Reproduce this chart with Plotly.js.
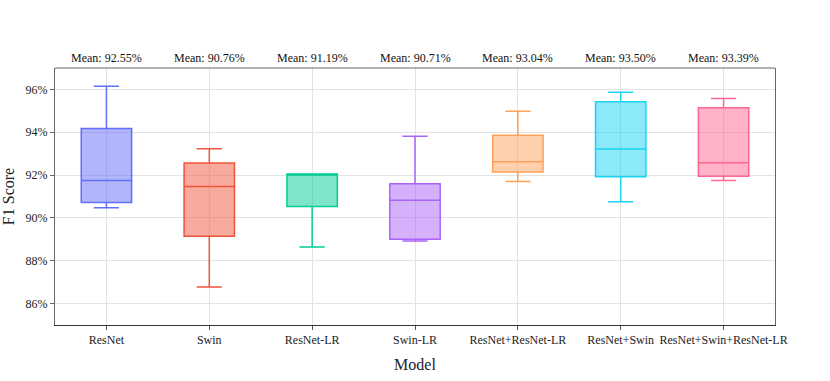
<!DOCTYPE html>
<html>
<head>
<meta charset="utf-8">
<script src="https://cdn.plot.ly/plotly-3.0.1.min.js"></script>
<style>
  html, body { margin: 0; padding: 0; background: #fff; }
  #plot { width: 830px; height: 381px; }
</style>
</head>
<body>
<div id="plot"></div>
<script>
var models = ['ResNet', 'Swin', 'ResNet-LR', 'Swin-LR', 'ResNet+ResNet-LR', 'ResNet+Swin', 'ResNet+Swin+ResNet-LR'];
var colors = ['#636efa', '#EF553B', '#00cc96', '#ab63fa', '#FFA15A', '#19d3f3', '#FF6692'];

// box statistics (F1 score, %)
var lowerFence = [90.48, 86.78, 88.64, 88.92, 91.70, 90.76, 91.75];
var q1 = [90.72, 89.14, 90.53, 89.00, 92.14, 91.92, 91.94];
var median = [91.75, 91.47, 92.04, 90.83, 92.62, 93.22, 92.58];
var q3 = [94.17, 92.56, 92.05, 91.59, 93.86, 95.42, 95.14];
var upperFence = [96.15, 93.23, 92.05, 93.81, 94.98, 95.87, 95.58];
var means = [92.55, 90.76, 91.19, 90.71, 93.04, 93.50, 93.39];

var serif = "'Liberation Serif', 'DejaVu Serif', serif";

var data = [];
var annotations = [];
for (var i = 0; i < models.length; i++) {
  data.push({
    type: 'box',
    name: models[i],
    x: [models[i]],
    q1: [q1[i]],
    median: [median[i]],
    q3: [q3[i]],
    lowerfence: [lowerFence[i]],
    upperfence: [upperFence[i]],
    marker: { color: colors[i] },
    line: { color: colors[i], width: 1.5 },
    showlegend: false
  });
  annotations.push({
    x: models[i],
    y: 1,
    xref: 'x',
    yref: 'paper',
    yanchor: 'bottom',
    yshift: 1,
    showarrow: false,
    text: 'Mean: ' + means[i].toFixed(2) + '%',
    font: { family: serif, size: 12, color: '#111' }
  });
}

var layout = {
  width: 830,
  height: 381,
  margin: { l: 55, r: 55, t: 68, b: 56 },
  paper_bgcolor: 'white',
  plot_bgcolor: 'white',
  font: { family: serif, size: 12, color: '#222' },
  xaxis: {
    title: { text: 'Model', font: { family: serif, size: 16, color: '#222' }, standoff: 12 },
    showgrid: true,
    gridcolor: '#e2e2e2',
    showline: true,
    linecolor: '#333',
    linewidth: 1,
    ticks: 'outside',
    ticklen: 4,
    tickcolor: '#555',
    tickfont: { family: serif, size: 12, color: '#222' }
  },
  yaxis: {
    title: { text: 'F1 Score', font: { family: serif, size: 16, color: '#222' }, standoff: 8 },
    range: [85, 97],
    dtick: 2,
    ticksuffix: '%',
    showgrid: true,
    gridcolor: '#e2e2e2',
    zeroline: false,
    showline: true,
    mirror: true,
    linecolor: '#666',
    linewidth: 1,
    ticks: 'outside',
    ticklen: 4,
    tickcolor: '#666',
    tickfont: { family: serif, size: 12, color: '#222' }
  },
  shapes: [{
    type: 'line', xref: 'paper', yref: 'paper',
    x0: 0, x1: 1, y0: 1, y1: 1,
    line: { color: '#666', width: 1 }
  }],
  annotations: annotations
};

Plotly.newPlot('plot', data, layout, { displayModeBar: false });
</script>
</body>
</html>
